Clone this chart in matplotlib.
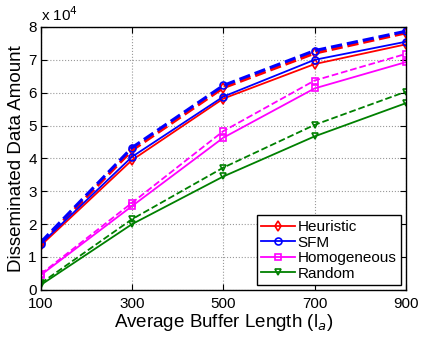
import matplotlib
matplotlib.use('Agg')
import matplotlib.pyplot as plt

plt.rcParams['font.family'] = ['Liberation Sans', 'DejaVu Sans']

# x 轴: 平均缓存长度
buffer_len = [100, 300, 500, 700, 900]

# 数值单位 x 10^4
heuristic = [1.35, 3.95, 5.82, 6.87, 7.47]
heuristic_dash = [1.40, 4.25, 6.15, 7.20, 7.82]
sfm = [1.40, 4.05, 5.88, 7.00, 7.55]
sfm_dash = [1.45, 4.33, 6.22, 7.28, 7.87]
homogeneous = [0.45, 2.55, 4.63, 6.13, 6.93]
homogeneous_dash = [0.48, 2.65, 4.83, 6.37, 7.18]
random_ = [0.15, 2.00, 3.45, 4.67, 5.68]
random_dash = [0.20, 2.15, 3.72, 5.02, 6.03]

fig = plt.figure(figsize=(4.21, 3.37), dpi=100)
ax = fig.add_axes([0.097, 0.14, 0.867, 0.78])

series = [
    ('Heuristic', heuristic, heuristic_dash, 'red', 'd'),
    ('SFM', sfm, sfm_dash, 'blue', 'o'),
    ('Homogeneous', homogeneous, homogeneous_dash, 'magenta', 's'),
    ('Random', random_, random_dash, 'green', 'v'),
]

# 虚线先画
for name, solid, dash, c, m in series:
    lw = 2.2 if name in ('Heuristic', 'SFM') else 1.3
    ax.plot(buffer_len, dash, color=c, linestyle='--', linewidth=lw,
            marker=m, markersize=5, markerfacecolor='none', markeredgewidth=1.2)
for name, solid, dash, c, m in series:
    ax.plot(buffer_len, solid, color=c, linestyle='-', linewidth=1.3,
            marker=m, markersize=5, markerfacecolor='none', markeredgewidth=1.2,
            label=name)

ax.set_xlim(100, 900)
ax.set_ylim(0, 8)
ax.set_xticks(buffer_len)
ax.set_yticks(range(0, 9))
ax.tick_params(direction='in', labelsize=11, length=4, top=True, right=True)
ax.tick_params(axis='x', pad=5)
ax.tick_params(axis='y', pad=3)
ax.grid(True, linestyle=':', color='#999999', linewidth=0.8)
for s in ax.spines.values():
    s.set_linewidth(1.0)

ax.set_xlabel('Average Buffer Length (l$_a$)', fontsize=13.5, labelpad=1)
ax.set_ylabel('Disseminated Data Amount', fontsize=13.5, labelpad=2)
ax.text(0.0, 1.01, 'x 10$^4$', transform=ax.transAxes, fontsize=11, ha='left', va='bottom')

leg = ax.legend(loc='lower right', fontsize=11, frameon=True, fancybox=False,
                edgecolor='black', framealpha=1, borderpad=0.3, labelspacing=0.1,
                handlelength=2.2, handletextpad=0.2, borderaxespad=0.3)
leg.get_frame().set_linewidth(1.0)

fig.savefig('out.png', dpi=100)
